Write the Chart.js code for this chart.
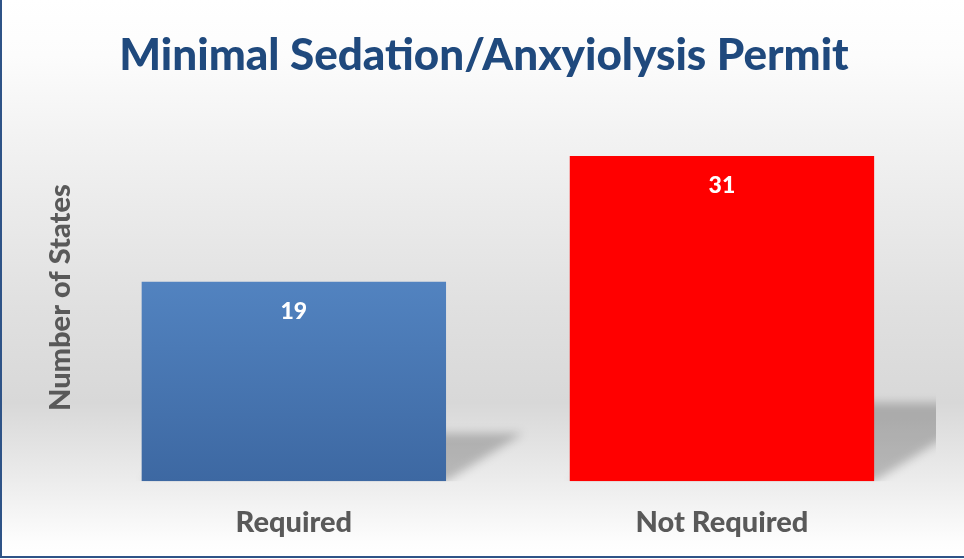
<!DOCTYPE html>
<html>
<head>
<meta charset="utf-8">
<script src="https://cdn.jsdelivr.net/npm/chart.js@4"></script>
<style>
  html, body { margin: 0; padding: 0; background: #ffffff; }
  #wrap { position: relative; width: 964px; height: 559px; }
  canvas { display: block; }
</style>
</head>
<body>
<div id="wrap"><canvas id="c" width="964" height="559"></canvas></div>
<script>
// ---- data ----
const categories = ['Required', 'Not Required'];
const seriesValues = [19, 31];
const chartTitle = 'Minimal Sedation/Anxyiolysis Permit';
const yAxisTitle = 'Number of States';

// ---- style ----
const FONT = 'Lato, "Open Sans", "DejaVu Sans", sans-serif';
const WEIGHT = '900';
const BLUE_TOP = '#5283c0';
const BLUE_BOTTOM = '#3d68a2';
const RED = '#ff0000';

const bgPlugin = {
  id: 'bg',
  beforeDraw(chart) {
    const { ctx, width, height } = chart;
    ctx.save();
    const g = ctx.createLinearGradient(0, 0, 0, height);
    g.addColorStop(0.00, '#ffffff');
    g.addColorStop(0.10, '#fcfcfc');
    g.addColorStop(0.25, '#f2f2f2');
    g.addColorStop(0.55, '#e0e0e0');
    g.addColorStop(0.72, '#d8d8d8');
    g.addColorStop(0.86, '#ececec');
    g.addColorStop(0.97, '#fdfdfd');
    g.addColorStop(1.00, '#ffffff');
    ctx.fillStyle = g;
    ctx.fillRect(0, 0, width, height);
    ctx.restore();
  },
  afterDraw(chart) {
    const { ctx, width, height } = chart;
    ctx.save();
    ctx.strokeStyle = '#2e5387';
    ctx.lineWidth = 2;
    ctx.beginPath();
    ctx.moveTo(1, 0);
    ctx.lineTo(1, height - 2);
    ctx.lineTo(width, height - 2);
    ctx.stroke();
    ctx.restore();
  }
};

const shadowPlugin = {
  id: 'barShadow',
  beforeDatasetsDraw(chart) {
    const { ctx, chartArea } = chart;
    const meta = chart.getDatasetMeta(0);
    ctx.save();
    ctx.beginPath();
    ctx.rect(chartArea.left, chartArea.top, chartArea.right - chartArea.left, chartArea.bottom - chartArea.top);
    ctx.clip();
    ctx.filter = 'blur(5px)';
    ctx.fillStyle = 'rgba(0,0,0,0.22)';
    meta.data.forEach(el => {
      const p = el.getProps(['x', 'y', 'base', 'width'], true);
      const left = p.x - p.width / 2, right = p.x + p.width / 2;
      const h = p.base - p.y;
      const sh = 0.24 * h;
      const dx = sh / 0.62;
      ctx.beginPath();
      ctx.moveTo(left, p.base);
      ctx.lineTo(right, p.base);
      ctx.lineTo(right + dx, p.base - sh);
      ctx.lineTo(left + dx, p.base - sh);
      ctx.closePath();
      ctx.fill();
    });
    ctx.restore();
  }
};

const labelPlugin = {
  id: 'valueLabels',
  afterDatasetsDraw(chart) {
    const { ctx } = chart;
    const meta = chart.getDatasetMeta(0);
    ctx.save();
    ctx.fillStyle = '#ffffff';
    ctx.font = WEIGHT + ' 23px ' + FONT;
    ctx.textAlign = 'center';
    ctx.textBaseline = 'middle';
    meta.data.forEach((el, i) => {
      const p = el.getProps(['x', 'y'], true);
      ctx.fillText(String(seriesValues[i]), p.x, p.y + 30);
    });
    ctx.restore();
  }
};

new Chart(document.getElementById('c'), {
  type: 'bar',
  data: {
    labels: categories,
    datasets: [{
      data: seriesValues,
      backgroundColor(ctx) {
        if (ctx.dataIndex === 1) return RED;
        const c = ctx.chart, a = c.chartArea;
        if (!a || !c.scales.y) return BLUE_TOP;
        const y = c.scales.y.getPixelForValue(ctx.raw);
        const g = c.ctx.createLinearGradient(0, y, 0, a.bottom);
        g.addColorStop(0, BLUE_TOP);
        g.addColorStop(1, BLUE_BOTTOM);
        return g;
      },
      borderWidth: 0,
      barPercentage: 1,
      categoryPercentage: 0.711
    }]
  },
  options: {
    responsive: false,
    animation: false,
    devicePixelRatio: 1,
    layout: { padding: { left: 32, right: 28, top: 0, bottom: -5 } },
    plugins: {
      legend: { display: false },
      tooltip: { enabled: false },
      title: {
        display: true,
        text: chartTitle,
        color: '#1f497d',
        font: { family: FONT, size: 44, weight: WEIGHT, lineHeight: 1.2 },
        padding: { top: 29, bottom: 32.2 }
      }
    },
    scales: {
      x: {
        grid: { display: false, drawTicks: false },
        border: { display: false },
        ticks: {
          color: '#595959',
          font: { family: FONT, size: 29, weight: WEIGHT, lineHeight: 1.2 },
          padding: 24
        }
      },
      y: {
        min: 0,
        max: 35,
        grid: { display: false, drawTicks: false },
        border: { display: false },
        ticks: { display: false },
        title: {
          display: true,
          text: yAxisTitle,
          color: '#595959',
          font: { family: FONT, size: 29, weight: WEIGHT, lineHeight: 1.2 },
          padding: { top: 11, bottom: 2 }
        }
      }
    }
  },
  plugins: [bgPlugin, shadowPlugin, labelPlugin]
});
</script>
</body>
</html>
